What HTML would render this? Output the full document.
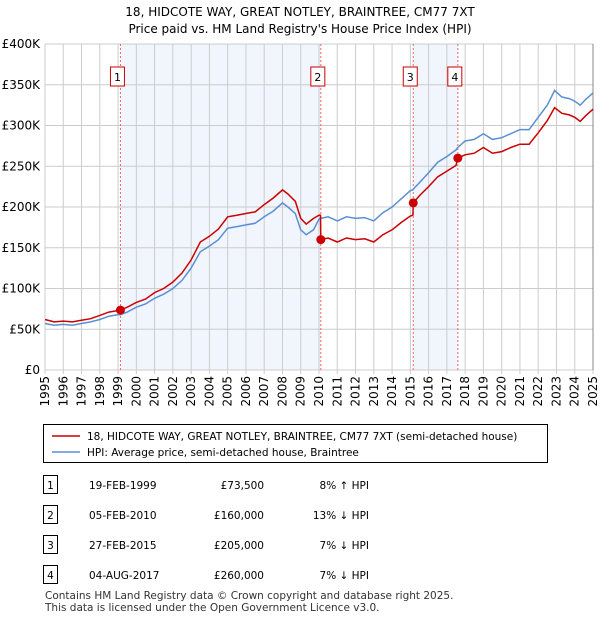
<!DOCTYPE html>
<html><head><meta charset="utf-8"><style>
body{margin:0;width:600px;height:620px;background:#fff;font-family:"DejaVu Sans","Liberation Sans",sans-serif;color:#000;overflow:hidden}
svg{position:absolute;left:0;top:0}
text{font-family:"DejaVu Sans","Liberation Sans",sans-serif}
</style></head><body>
<svg id="c" width="600" height="620"></svg>
<script>
const dates=[1995,1995.5,1996,1996.5,1997,1997.5,1998,1998.5,1999,1999.13,1999.5,2000,2000.5,2001,2001.5,2002,2002.5,2003,2003.5,2004,2004.5,2005,2005.5,2006,2006.5,2007,2007.5,2008,2008.3,2008.7,2009,2009.3,2009.7,2010,2010.08,2010.1,2010.5,2011,2011.5,2012,2012.5,2013,2013.5,2014,2014.5,2015,2015.14,2015.16,2015.5,2016,2016.5,2017,2017.5,2017.6,2018,2018.5,2019,2019.5,2020,2020.5,2021,2021.5,2022,2022.5,2022.9,2023.3,2023.7,2024,2024.3,2024.6,2025];
const hpi=[57,55,56,55,57,59,62,66,68,68,71,77,81,88,93,100,110,125,145,152,160,174,176,178,180,188,195,205,200,192,172,166,172,185,186,186,188,183,188,186,187,183,193,200,210,220,221,222,230,242,255,262,270,273,281,283,290,283,285,290,295,295,310,325,343,335,333,330,325,332,340];
const red=[62,59,60,59,61,63,67,71,73,73.5,77,83,87,95,100,108,119,135,157,164,173,188,190,192,194,203,211,221,216,207,186,179,186,190,190,160,162,157,162,160,161,157,166,172,181,189,190,205,214,225,237,244,251,260,264,266,273,266,268,273,277,277,291,306,322,315,313,310,305,312,320];
const sales=[{n:"1",t:1999.13,v:73.5},{n:"2",t:2010.1,v:160},{n:"3",t:2015.16,v:205},{n:"4",t:2017.6,v:260}];
const yTicks=[0,50,100,150,200,250,300,350,400];
const yLabels=["£0","£50K","£100K","£150K","£200K","£250K","£300K","£350K","£400K"];
const x0=45,x1=593,y0=370,y1=44;
const X=t=>x0+(t-1995)/30*(x1-x0);
const Y=v=>y0-v/400*(y0-y1);
const svg=document.getElementById('c');const NS="http://www.w3.org/2000/svg";
function mk(tag,a,txt){const e=document.createElementNS(NS,tag);for(const k in a)e.setAttribute(k,a[k]);if(txt!=null)e.textContent=txt;svg.appendChild(e);return e;}
let e;
e=mk('text',{x:300,y:16,'text-anchor':'middle','font-size':12},"18, HIDCOTE WAY, GREAT NOTLEY, BRAINTREE, CM77 7XT");


e=mk('text',{x:300,y:33,'text-anchor':'middle','font-size':12},"Price paid vs. HM Land Registry's House Price Index (HPI)");


[[0,1],[2,3]].forEach(p=>{e=mk('rect',{x:X(sales[p[0]].t),y:y1,width:X(sales[p[1]].t)-X(sales[p[0]].t),height:y0-y1,fill:'#eef3fd',opacity:0.8});

});
for(let yr=1995;yr<=2025;yr++){e=mk('line',{x1:X(yr),x2:X(yr),y1:y1,y2:y0+4,stroke:'#ccc'});


e=mk('text',{transform:`translate(${X(yr)+4},${y0+6}) rotate(-90)`,'text-anchor':'end','font-size':12},String(yr));

}
yTicks.forEach((v,i)=>{e=mk('line',{x1:x0,x2:x1,y1:Y(v),y2:Y(v),stroke:'#ccc'});


e=mk('text',{x:x0-5,y:Y(v)+4,'text-anchor':'end','font-size':12},yLabels[i]);

});
e=mk('line',{x1:x1,x2:x1,y1:y1,y2:y0,stroke:'#888'});


sales.forEach(s=>{e=mk('line',{x1:X(s.t),x2:X(s.t),y1:y1,y2:y0,stroke:'#e66','stroke-dasharray':'2,2'});

});
const path=(arr)=>dates.map((d,i)=>(i?'L':'M')+X(d).toFixed(1)+' '+Y(arr[i]).toFixed(1)).join('');
e=mk('path',{d:path(hpi),fill:'none',stroke:'#5b8fd4','stroke-width':1.5});


e=mk('path',{d:path(red),fill:'none',stroke:'#cc0000','stroke-width':1.5});


sales.forEach(s=>{e=mk('circle',{cx:X(s.t),cy:Y(s.v),r:4.5,fill:'#cc0000'});


e=mk('rect',{x:X(s.t)-10,y:67,width:14,height:19,fill:'#fff',stroke:'#cc0000'});


e=mk('text',{x:X(s.t)-3,y:81,'text-anchor':'middle','font-size':11},s.n);

});
e=mk('rect',{x:43.5,y:424.5,width:504,height:38,fill:'#fff',stroke:'#000'});


e=mk('line',{x1:52,x2:80,y1:436,y2:436,stroke:'#cc0000','stroke-width':1.5});


e=mk('text',{x:87,y:440,'font-size':10.5},"18, HIDCOTE WAY, GREAT NOTLEY, BRAINTREE, CM77 7XT (semi-detached house)");


e=mk('line',{x1:52,x2:80,y1:452,y2:452,stroke:'#5b8fd4','stroke-width':1.5});


e=mk('text',{x:87,y:456,'font-size':10.5},"HPI: Average price, semi-detached house, Braintree");


const rows=[["1","19-FEB-1999","£73,500","8% ↑ HPI"],["2","05-FEB-2010","£160,000","13% ↓ HPI"],["3","27-FEB-2015","£205,000","7% ↓ HPI"],["4","04-AUG-2017","£260,000","7% ↓ HPI"]];
rows.forEach((r,i)=>{const yy=486+i*30;
e=mk('rect',{x:43.5,y:yy-10.5,width:14,height:18,fill:'#fff',stroke:'#000'});


e=mk('text',{x:50.5,y:yy+3,'text-anchor':'middle','font-size':10.5},r[0]);


e=mk('text',{x:89,y:yy+3,'font-size':10.5},r[1]);


e=mk('text',{x:264,y:yy+3,'text-anchor':'end','font-size':10.5},r[2]);


e=mk('text',{x:369,y:yy+3,'text-anchor':'end','font-size':10.5},r[3]);

});
e=mk('text',{x:45,y:599,'font-size':10.5,fill:'#333'},"Contains HM Land Registry data © Crown copyright and database right 2025.");


e=mk('text',{x:45,y:611,'font-size':10.5,fill:'#333'},"This data is licensed under the Open Government Licence v3.0.");


</script>
</body></html>
